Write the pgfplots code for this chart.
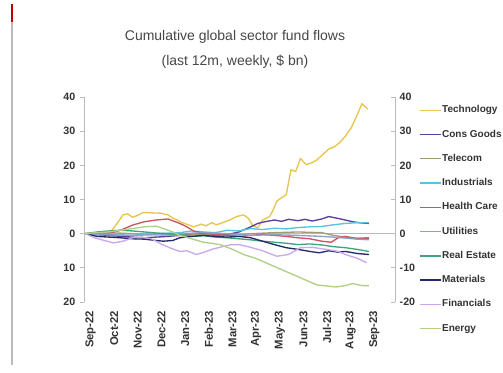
\documentclass[border=0pt]{standalone}
\usepackage{pgfplots}
\pgfplotsset{compat=1.18}
\usepackage{fontspec}
\setmainfont{Liberation Sans}
\definecolor{ctech}{HTML}{E6C650}
\definecolor{ccons}{HTML}{5B3F99}
\definecolor{ctele}{HTML}{A59A78}
\definecolor{cind}{HTML}{58C3E0}
\definecolor{chc}{HTML}{C95466}
\definecolor{cutil}{HTML}{8E9FC4}
\definecolor{cre}{HTML}{3FA57F}
\definecolor{cmat}{HTML}{262A66}
\definecolor{cfin}{HTML}{CBA8EC}
\definecolor{cen}{HTML}{B1CF86}
\definecolor{txt}{HTML}{333333}
\definecolor{axgray}{HTML}{BBBBBB}
\begin{document}
\begin{tikzpicture}
\useasboundingbox (0pt,0pt) rectangle (377.25pt,-279pt);
\fill[white] (0pt,0pt) rectangle (377.25pt,-279pt);
% decorative side bar
\fill[axgray] (8.4pt,-16.5pt) rectangle (9.6pt,-273.75pt);
\fill[red!75!black] (7.9pt,-3pt) rectangle (10.1pt,-16.5pt);
% titles
\node[text=txt!90, font=\fontsize{10.5}{12}\selectfont] at (176.25pt,-28pt) {Cumulative global sector fund flows};
\node[text=txt!90, font=\fontsize{10.5}{12}\selectfont] at (176.25pt,-46.5pt) {(last 12m, weekly, \$ bn)};

\begin{axis}[
  at={(63pt,-226.5pt)}, anchor=south west,
  scale only axis, width=233.25pt, height=153.75pt,
  xmin=-0.05, xmax=13.1, ymin=-20, ymax=40,
  axis y line*=left, axis x line*=bottom,
  x axis line style={draw=none},
  y axis line style={axgray, line width=0.6pt},
  xtick={0,...,12},
  xticklabels={Sep-22,Oct-22,Nov-22,Dec-22,Jan-23,Feb-23,Mar-23,Apr-23,May-23,Jun-23,Jul-23,Aug-23,Sep-23},
  xtick style={draw=none},
  xticklabel style={rotate=90, anchor=east, font=\fontsize{8.5}{9}\selectfont\bfseries, text=txt, yshift=-4pt},
  ytick={-20,-10,0,10,20,30,40},
  yticklabels={20,10,0,10,20,30,40},
  ytick style={axgray, line width=0.6pt},
  tick align=outside, major tick length=3pt,
  yticklabel style={font=\fontsize{8}{9}\selectfont\bfseries, text=txt},
  clip=false,
  legend style={draw=none, fill=none, at={(1.065,1.009)}, anchor=north west,
    font=\fontsize{7.5}{8}\selectfont\bfseries, text=txt, row sep=0pt,
    nodes={inner sep=0pt, minimum height=18.2pt}},
  legend cell align=left,
  legend image code/.code={\draw[#1, line width=1pt] (0pt,0pt) -- (16pt,0pt);},
  every axis plot/.append style={line width=1pt},
]
\draw[axgray, line width=0.6pt] (axis cs:-0.05,0) -- (axis cs:13.1,0);

\addplot[ctech] coordinates {(0,0)(0.3,0.3)(0.6,-0.3)(0.9,0.2)(1.1,0.7)(1.35,3)(1.6,5.5)(1.8,5.8)(2.0,4.8)(2.2,5.3)(2.45,6.2)(2.8,6.1)(3.2,6)(3.5,5.5)(3.7,4.6)(3.9,4.0)(4.1,3.2)(4.4,2.5)(4.6,2.0)(4.9,2.8)(5.1,2.3)(5.35,3.2)(5.55,2.6)(5.8,3.2)(6.1,4.0)(6.4,5)(6.7,5.5)(6.9,4.5)(7.1,2.2)(7.3,1.8)(7.5,4)(7.8,5)(7.95,7)(8.1,9.5)(8.3,10.5)(8.5,11.4)(8.6,15)(8.7,18.7)(8.9,18.2)(9.1,22)(9.35,20.2)(9.6,20.8)(9.8,21.6)(10.05,23.2)(10.3,24.8)(10.55,25.5)(10.75,26.6)(11.0,28.5)(11.25,31)(11.45,34)(11.7,38)(11.95,36.5)};
\addlegendentry{Technology}
\addplot[ccons] coordinates {(0,0)(0.5,-0.3)(1,-0.5)(1.5,-0.8)(2,-1)(2.5,-1.2)(3,-1.0)(3.5,-0.8)(4,-0.5)(4.5,-0.2)(5,0)(5.5,-0.5)(6,-0.3)(6.5,0.5)(7,2)(7.3,3)(7.6,3.5)(8,4)(8.3,3.6)(8.6,4.2)(9,3.8)(9.3,4.2)(9.6,3.7)(10,4.3)(10.3,5)(10.6,4.6)(11,4.0)(11.3,3.5)(11.6,3.2)(12,3.0)};
\addlegendentry{Cons Goods}
\addplot[ctele] coordinates {(0,0)(1,0.3)(2,0)(3,-0.3)(4,-0.5)(5,-0.2)(6,-0.5)(7,0)(8,0.3)(9,0.5)(10,0.3)(10.5,-0.5)(11,-1)(11.5,-1.3)(12,-1.2)};
\addlegendentry{Telecom}
\addplot[cind] coordinates {(0,0)(1,-0.3)(2,-0.5)(3,0)(4,0.3)(4.5,0.8)(5,0.5)(5.5,0.3)(6,1)(6.5,0.8)(7,1.5)(7.5,1.2)(8,1.6)(8.5,1.4)(9,1.8)(9.5,2.0)(10,2.1)(10.5,2.6)(11,3.0)(11.5,3.2)(12,3.2)};
\addlegendentry{Industrials}
\addplot[chc] coordinates {(0,0)(0.5,0.2)(1,0.2)(1.5,1)(2,2.5)(2.5,3.5)(3,4.0)(3.5,4.3)(4,3.0)(4.3,2.0)(4.6,0.7)(5,0.2)(5.5,-0.2)(6,-0.5)(6.5,-0.8)(7,-0.5)(7.5,-0.2)(8,-0.5)(8.5,-0.8)(9,-1.2)(9.5,-1.5)(10,-2.2)(10.4,-2.5)(10.7,-1.2)(11,-0.8)(11.5,-1.5)(12,-1.3)};
\addlegendentry{Health Care}
\addplot[cutil] coordinates {(0,0)(1,-0.3)(2,-0.5)(3,-0.3)(4,0)(5,0.3)(6,0)(7,-0.5)(8,-0.3)(9,-0.5)(10,-0.8)(10.5,-1.0)(11,-1.3)(11.5,-1.6)(12,-1.8)};
\addlegendentry{Utilities}
\addplot[cre] coordinates {(0,0)(0.5,0.5)(1,0.8)(1.5,1)(2,0.8)(2.5,0.5)(3,0.2)(3.5,0)(4,-0.3)(4.5,-0.8)(5,-0.6)(5.5,-1)(6,-1.2)(6.5,-1.5)(7,-1.8)(7.5,-2.2)(8,-2.5)(8.5,-2.8)(9,-3.2)(9.5,-3.0)(10,-3.3)(10.5,-3.8)(11,-4.1)(11.5,-4.6)(12,-5.2)};
\addlegendentry{Real Estate}
\addplot[cmat] coordinates {(0,0)(0.5,-0.8)(1,-1)(1.5,-1.2)(2,-1.5)(2.5,-1.6)(3,-2.0)(3.3,-2.2)(3.7,-2.0)(4,-1.2)(4.5,-0.8)(5,-0.5)(5.5,-0.8)(6,-1.0)(6.5,-0.8)(7,-1.2)(7.5,-2.2)(8,-3.2)(8.5,-4.1)(9,-4.6)(9.5,-5.2)(9.9,-5.6)(10.3,-5.0)(10.7,-5.4)(11,-5.2)(11.5,-5.8)(12,-6.1)};
\addlegendentry{Materials}
\addplot[cfin] coordinates {(0,0)(0.4,-1.2)(0.8,-2)(1.2,-2.7)(1.6,-2.2)(2,-1.2)(2.4,-1.0)(2.8,-1.5)(3.2,-3)(3.6,-4.2)(4.0,-5.2)(4.3,-5.0)(4.7,-6.1)(5.0,-5.5)(5.4,-4.5)(5.8,-3.8)(6.2,-3.2)(6.5,-3.2)(7,-4.0)(7.5,-5)(8.1,-6.6)(8.6,-6.1)(9.1,-4.1)(9.6,-4.0)(10.3,-4.7)(10.7,-5.2)(11,-6.1)(11.5,-7.2)(11.9,-8.5)};
\addlegendentry{Financials}
\addplot[cen] coordinates {(0,0)(0.5,0.3)(1,0.5)(1.5,1)(2,1.5)(2.5,2)(3,2.2)(3.3,1.5)(3.7,0.5)(4,-0.5)(4.5,-1.5)(5,-2.5)(5.5,-3.0)(5.7,-3.2)(6.2,-4.5)(6.7,-6.1)(7.2,-7.2)(7.8,-9)(8.3,-10.5)(8.8,-12)(9.3,-13.5)(9.8,-15)(10.2,-15.3)(10.6,-15.6)(11,-15.2)(11.3,-14.6)(11.7,-15.2)(12,-15.2)};
\addlegendentry{Energy}
\end{axis}

\begin{axis}[
  at={(63pt,-226.5pt)}, anchor=south west,
  scale only axis, width=233.25pt, height=153.75pt,
  xmin=-0.05, xmax=13.1, ymin=-20, ymax=40,
  axis x line=none, axis y line*=right,
  y axis line style={axgray, line width=0.6pt},
  ytick={-20,-10,0,10,20,30,40},
  ytick style={axgray, line width=0.6pt},
  tick align=inside, major tick length=3pt,
  yticklabel style={font=\fontsize{8}{9}\selectfont\bfseries, text=txt},
  /pgf/number format/assume math mode=true,
]
\end{axis}
\end{tikzpicture}
\end{document}
